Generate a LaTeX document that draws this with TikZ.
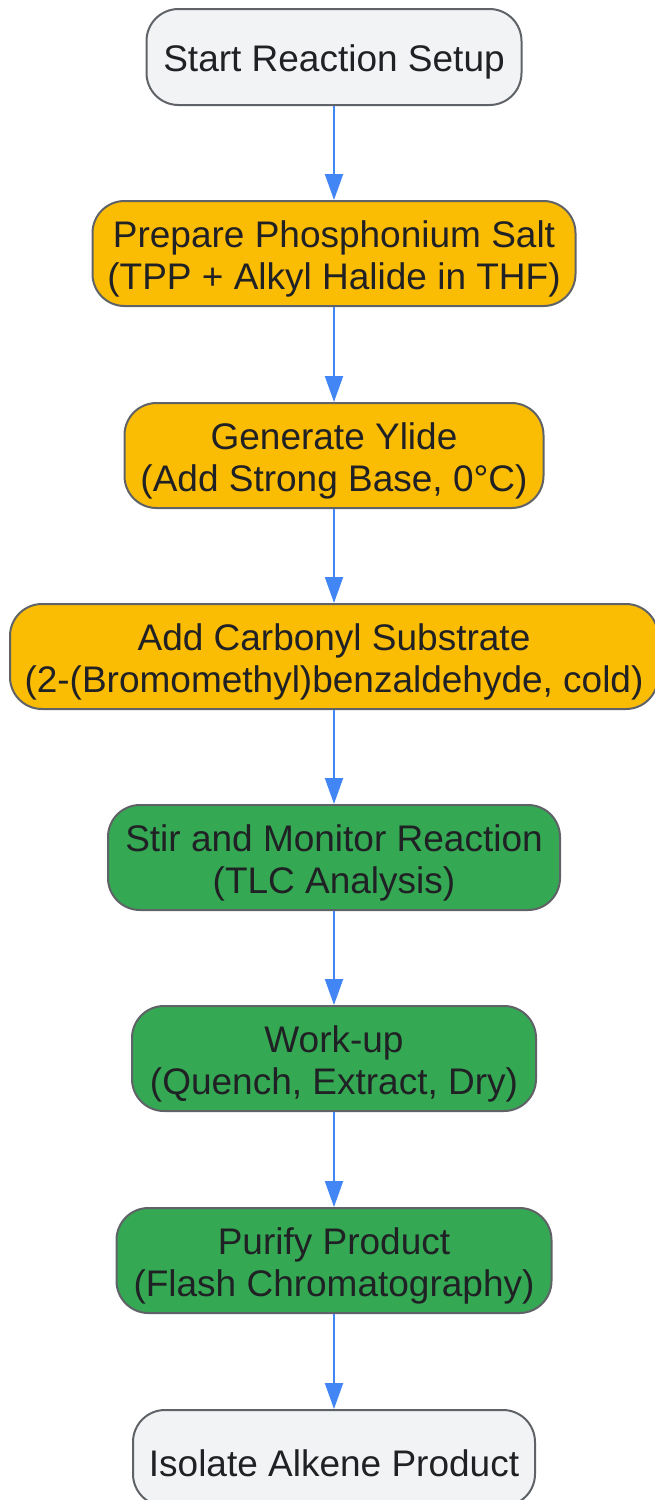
\documentclass[tikz,border=0pt]{standalone}
\usepackage{fontspec}
\setmainfont{Liberation Sans}
\usetikzlibrary{arrows.meta}
\definecolor{gfill}{HTML}{F1F3F4}
\definecolor{yfill}{HTML}{FBBC04}
\definecolor{grfill}{HTML}{34A853}
\definecolor{bord}{HTML}{5F6368}
\definecolor{txt}{HTML}{202124}
\definecolor{arr}{HTML}{4285F4}
\newcommand{\lowln}[1]{\raisebox{-5pt}[\height][\depth]{#1}}
\tikzset{
  box/.style={draw=bord, line width=2pt, rounded corners=32pt, align=center,
    inner sep=0pt, text=txt, font=\fontsize{37}{42}\selectfont},
  graybox/.style={box, fill=gfill},
  yelbox/.style={box, fill=yfill},
  grnbox/.style={box, fill=grfill},
  conn/.style={draw=arr, line width=2pt, -{Triangle[length=26pt,width=18pt]}}
}
\begin{document}
\begin{tikzpicture}[x=1pt,y=-1pt]
\useasboundingbox (0,0) rectangle (654,1500);
\node[graybox, minimum width=375pt, minimum height=96pt] (n1) at (334,57) {\lowln{Start Reaction Setup}};
\node[yelbox, minimum width=483pt, minimum height=105pt] (n2) at (334,253.5) {\lowln{Prepare Phosphonium Salt}\\\lowln{(TPP + Alkyl Halide in THF)}};
\node[yelbox, minimum width=419pt, minimum height=105pt] (n3) at (334,455.5) {\lowln{Generate Ylide}\\\lowln{(Add Strong Base, 0°C)}};
\node[yelbox, minimum width=648pt, minimum height=105pt] (n4) at (334,656.5) {\lowln{Add Carbonyl Substrate}\\\lowln{(2-(Bromomethyl)benzaldehyde, cold)}};
\node[grnbox, minimum width=452pt, minimum height=105pt] (n5) at (334,857.5) {\lowln{Stir and Monitor Reaction}\\\lowln{(TLC Analysis)}};
\node[grnbox, minimum width=404pt, minimum height=105pt] (n6) at (334,1058.5) {\lowln{Work-up}\\\lowln{(Quench, Extract, Dry)}};
\node[grnbox, minimum width=435pt, minimum height=105pt] (n7) at (334,1260.5) {\lowln{Purify Product}\\\lowln{(Flash Chromatography)}};
\node[graybox, minimum width=402pt, minimum height=96pt] (n8) at (334,1458) {\lowln{Isolate Alkene Product}};
\draw[conn] (n1.south) -- (n2.north);
\draw[conn] (n2.south) -- (n3.north);
\draw[conn] (n3.south) -- (n4.north);
\draw[conn] (n4.south) -- (n5.north);
\draw[conn] (n5.south) -- (n6.north);
\draw[conn] (n6.south) -- (n7.north);
\draw[conn] (n7.south) -- (n8.north);
\end{tikzpicture}
\end{document}
